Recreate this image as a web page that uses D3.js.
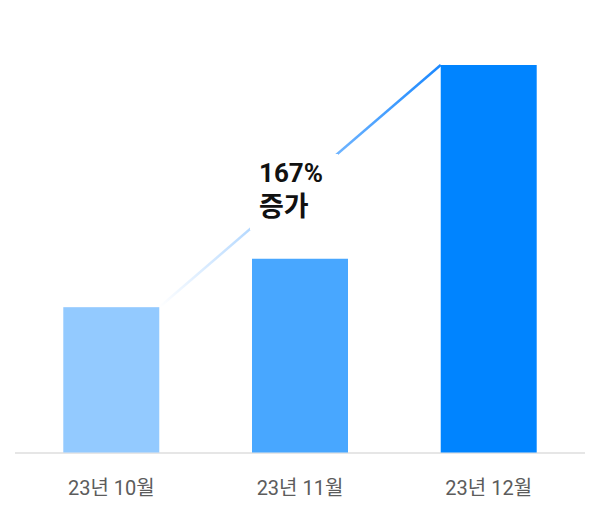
<!DOCTYPE html>
<html><head><meta charset="utf-8">
<script src="https://cdn.jsdelivr.net/npm/d3@7"></script>
<style>html,body{margin:0;padding:0;background:#fff;}svg{display:block;}</style>
</head><body>
<svg id="c" width="600" height="514"></svg>
<script>
const categories = ["23년 10월", "23년 11월", "23년 12월"];
const values = [3, 4, 8];
const barColors = ["#93CAFF", "#48A7FF", "#0084FF"];
const labelLines = ["167%", "증가"];

const svg = d3.select("#c");
const x = d3.scaleBand().domain(categories).range([18, 582]).paddingInner(0.4914).paddingOuter(0.24);
const y = d3.scaleLinear().domain([0, 8]).range([452.5, 65]);

// axis line
svg.append("line").attr("x1", 15).attr("x2", 585).attr("y1", 453).attr("y2", 453)
  .attr("stroke", "#e6e6e6").attr("stroke-width", 2);

// gradient line
const x1 = x(categories[0]) + x.bandwidth(), y1 = y(values[0]);
const x2 = x(categories[2]), y2 = y(values[2]);
const defs = svg.append("defs");
const g = defs.append("linearGradient").attr("id", "lg").attr("gradientUnits", "userSpaceOnUse")
  .attr("x1", x1).attr("y1", y1).attr("x2", x2).attr("y2", y2);
g.append("stop").attr("offset", "0%").attr("stop-color", "#ffffff");
g.append("stop").attr("offset", "100%").attr("stop-color", "#1a88ff");
svg.append("line").attr("x1", x1).attr("y1", y1).attr("x2", x2).attr("y2", y2)
  .attr("stroke", "url(#lg)").attr("stroke-width", 2.5);

// bars
svg.selectAll("rect.bar").data(values).enter().append("rect").attr("class", "bar")
  .attr("x", (d, i) => x(categories[i])).attr("width", x.bandwidth())
  .attr("y", d => y(d)).attr("height", d => y(0) - y(d))
  .attr("fill", (d, i) => barColors[i]);

// label box
svg.append("rect").attr("x", 250).attr("y", 154).attr("width", 88).attr("height", 76).attr("fill", "#fff");
svg.selectAll("text.lab").data(labelLines).enter().append("text").attr("class", "lab")
  .attr("x", 259).attr("y", (d, i) => 182 + i * 34)
  .attr("font-family", "Roboto, 'Noto Sans CJK KR', sans-serif").attr("font-weight", "bold")
  .attr("font-size", (d, i) => i === 0 ? 26 : 27).attr("fill", "#111").text(d => d);

// category labels
svg.selectAll("text.cat").data(categories).enter().append("text").attr("class", "cat")
  .attr("x", d => x(d) + x.bandwidth() / 2).attr("y", 495).attr("text-anchor", "middle")
  .attr("font-family", "Roboto, 'Noto Sans CJK KR', sans-serif")
  .attr("font-size", 20).attr("fill", "#5c5c5c").text(d => d);
</script>
</body></html>
